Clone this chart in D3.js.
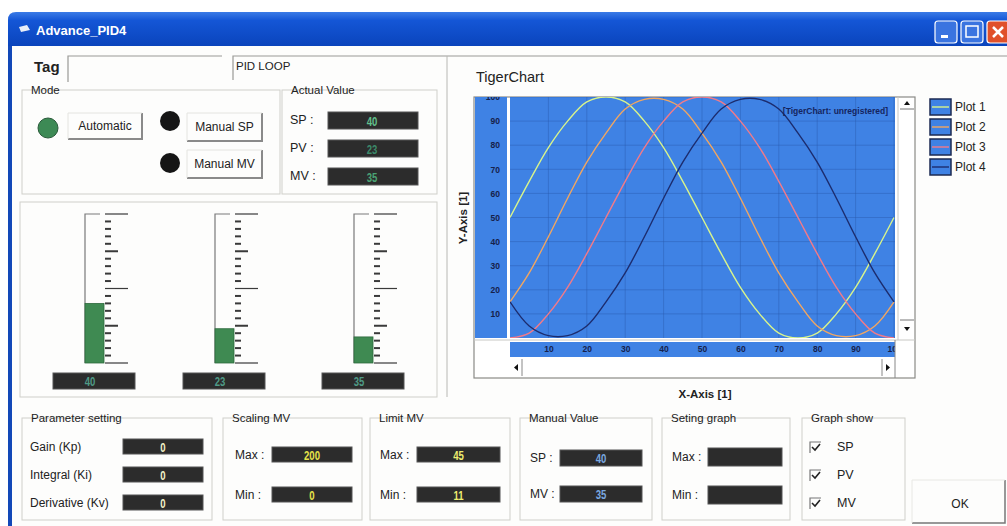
<!DOCTYPE html>
<html>
<head>
<meta charset="utf-8">
<script src="https://cdn.jsdelivr.net/npm/d3@7"></script>
<style>
  body { margin: 0; background: #ffffff; }
  text { font-family: "Liberation Sans", Arial, sans-serif; }
</style>
</head>
<body>
<script>
// chart data
const xValues = [0, 5, 10, 15, 20, 25, 30, 35, 40, 45, 50, 55, 60, 65, 70, 75, 80, 85, 90, 95, 100];
const plot1 = [50, 65, 79, 90, 98, 100, 98, 90, 79, 65, 50, 35, 21, 10, 2, 0, 2, 10, 21, 35, 50];
const plot2 = [15, 27, 42, 58, 73, 85, 95, 99, 99, 95, 85, 73, 58, 42, 27, 15, 5, 1, 1, 5, 15];
const plot3 = [0, 2, 10, 21, 35, 50, 65, 79, 90, 98, 100, 98, 90, 79, 65, 50, 35, 21, 10, 2, 0];
const plot4 = [15, 5, 1, 1, 5, 15, 27, 42, 58, 73, 85, 95, 99, 99, 95, 85, 73, 58, 42, 27, 15];
const plotNames = ["Plot 1", "Plot 2", "Plot 3", "Plot 4"];
const xTicks = [10, 20, 30, 40, 50, 60, 70, 80, 90, 100];
const yTicks = [10, 20, 30, 40, 50, 60, 70, 80, 90, 100];

// panel values
const actualLabels = ["SP", "PV", "MV"];
const actualValues = [40, 23, 35];
const gaugeValues = [40, 23, 35];
const gaugeMax = [100, 100, 200];
const paramLabels = ["Gain (Kp)", "Integral (Ki)", "Derivative (Kv)"];
const paramValues = [0, 0, 0];
const rangeLabels = ["Max", "Min"];
const scalingValues = [200, 0];
const limitValues = [45, 11];
const manualLabels = ["SP", "MV"];
const manualValues = [40, 35];
const showLabels = ["SP", "PV", "MV"];

const plotColors = ["#d8f48c", "#f2a660", "#f27a88", "#1c2c6e"];
const plotBlue = "#3f82e4";

const svg = d3.select("body").append("svg")
    .attr("width", 1007)
    .attr("height", 526);

const defs = svg.append("defs");
let grad = defs.append("linearGradient").attr("id", "title").attr("x1", 0).attr("y1", 0).attr("x2", 0).attr("y2", 1);
grad.append("stop").attr("offset", "0%").attr("stop-color", "#3b7be6");
grad.append("stop").attr("offset", "25%").attr("stop-color", "#1456d6");
grad.append("stop").attr("offset", "100%").attr("stop-color", "#0a44bc");

// ---- window frame ----
svg.append("path")
    .attr("d", "M8,46 L8,20 Q8,12 16,12 L1007,12 L1007,46 Z")
    .attr("fill", "url(#title)");
svg.append("rect").attr("x", 8).attr("y", 46).attr("width", 4).attr("height", 480).attr("fill", "#1248b8");
svg.append("rect").attr("x", 12).attr("y", 46).attr("width", 995).attr("height", 480).attr("fill", "#fdfdfc");
svg.append("path").attr("d", "M19,27 L27,25 L30,30 L21,32 Z").attr("fill", "#e8eef8");
svg.append("text").attr("x", 36).attr("y", 35).text("Advance_PID4")
    .attr("fill", "#fff").attr("font-weight", "bold").attr("font-size", 13);

// title buttons
[[935, "min"], [961, "max"], [987, "close"]].forEach(function (b) {
    svg.append("rect").attr("x", b[0]).attr("y", 21).attr("width", 22).attr("height", 22).attr("rx", 3)
        .attr("fill", b[1] === "close" ? "#e0502a" : "#3a74e0").attr("stroke", "#fff").attr("stroke-width", 1.2);
    if (b[1] === "min") svg.append("rect").attr("x", b[0] + 6).attr("y", 35).attr("width", 7).attr("height", 3).attr("fill", "#fff");
    if (b[1] === "max") svg.append("rect").attr("x", b[0] + 5).attr("y", 26).attr("width", 12).attr("height", 11).attr("fill", "none").attr("stroke", "#fff").attr("stroke-width", 1.5);
    if (b[1] === "close") svg.append("path").attr("d", "M" + (b[0] + 6) + ",27 l10,10 M" + (b[0] + 16) + ",27 l-10,10").attr("stroke", "#fff").attr("stroke-width", 2.5);
});

// ---- helpers ----
function group(x, y, w, h, label) {
    svg.append("rect").attr("x", x).attr("y", y).attr("width", w).attr("height", h)
        .attr("fill", "none").attr("stroke", "#cfcfca").attr("stroke-width", 1);
    if (label) {
        let t = svg.append("text").attr("x", x + 9).attr("y", y + 4).text(label)
            .attr("font-size", 11.5).attr("fill", "#222");
        let bb = t.node().getBBox();
        svg.insert("rect", "text").attr("x", bb.x - 2).attr("y", y - 2).attr("width", bb.width + 4).attr("height", 4).attr("fill", "#fdfdfc");
    }
}
function txt(x, y, s, size, opts) {
    opts = opts || {};
    return svg.append("text").attr("x", x).attr("y", y).text(s)
        .attr("font-size", size).attr("fill", opts.fill || "#222")
        .attr("font-weight", opts.bold ? "bold" : "normal")
        .attr("text-anchor", opts.anchor || "start")
        .attr("dominant-baseline", "central");
}
function display(x, y, w, h, value, color, cx) {
    svg.append("rect").attr("x", x).attr("y", y).attr("width", w).attr("height", h)
        .attr("fill", "#2c2c2c").attr("stroke", "#555").attr("stroke-width", 1);
    if (value !== null)
        txt(cx === undefined ? x + w / 2 : cx, y + h / 2 + 1, value, 12, {fill: color, anchor: "middle", bold: true})
            .attr("transform", "translate(" + (cx === undefined ? x + w / 2 : cx) + "," + (y + h / 2) + ") scale(0.8,1) translate(" + -(cx === undefined ? x + w / 2 : cx) + "," + -(y + h / 2) + ")");
}
function button(x, y, w, h, label) {
    svg.append("rect").attr("x", x).attr("y", y).attr("width", w).attr("height", h).attr("fill", "#fdfdfc");
    svg.append("path").attr("d", "M" + (x + w) + "," + y + " L" + (x + w) + "," + (y + h) + " L" + x + "," + (y + h))
        .attr("fill", "none").attr("stroke", "#8a8a8a").attr("stroke-width", 2);
    svg.append("path").attr("d", "M" + x + "," + (y + h) + " L" + x + "," + y + " L" + (x + w) + "," + y)
        .attr("fill", "none").attr("stroke", "#e4e4e0").attr("stroke-width", 1);
    txt(x + w / 2, y + h / 2, label, 12, {anchor: "middle"});
}

// ---- Tag row ----
txt(34, 66, "Tag", 15, {bold: true});
svg.append("path").attr("d", "M68,82 L68,56 L222,56").attr("fill", "none").attr("stroke", "#9a9a96").attr("stroke-width", 1.2);
svg.append("path").attr("d", "M233,80 L233,56 L437,56 L1007,56").attr("fill", "none").attr("stroke", "#9a9a96").attr("stroke-width", 1.2);
txt(236, 66, "PID LOOP", 11.5);

// ---- Mode ----
group(22, 90, 258, 104, "Mode");
svg.append("circle").attr("cx", 48).attr("cy", 128).attr("r", 10).attr("fill", "#3d8a55").attr("stroke", "#2a5a3a");
svg.append("circle").attr("cx", 170).attr("cy", 121).attr("r", 10).attr("fill", "#151515");
svg.append("circle").attr("cx", 170).attr("cy", 163).attr("r", 10).attr("fill", "#151515");
button(68, 113, 74, 26, "Automatic");
button(187, 113, 75, 28, "Manual SP");
button(187, 150, 75, 28, "Manual MV");

// ---- Actual value ----
group(282, 90, 155, 104, "Actual Value");
const actualColors = ["#62c08c", "#3c8a6a", "#4aa374"];
actualLabels.forEach(function (l, i) {
    let yy = 112 + i * 28;
    txt(290, yy + 8, l + " :", 12.5);
    display(328, yy, 90, 17, actualValues[i], actualColors[i], 372);
});

// ---- gauges ----
group(20, 202, 417, 195, null);
const gaugeX = [85, 215, 354];
const gaugeBoxX = [53, 183, 322];
gaugeValues.forEach(function (v, i) {
    let gs = d3.scaleLinear().domain([0, gaugeMax[i]]).range([363, 214]);
    let gx = gaugeX[i];
    svg.append("path").attr("d", "M" + (gx + 15) + ",214 L" + gx + ",214 L" + gx + ",363")
        .attr("fill", "none").attr("stroke", "#7a7a7a").attr("stroke-width", 1.2);
    svg.append("rect").attr("x", gx).attr("y", gs(v)).attr("width", 19).attr("height", 363 - gs(v))
        .attr("fill", "#3f8a52").attr("stroke", "#2f6a3e").attr("stroke-width", 0.8);
    let ticks = gs.ticks(20);
    ticks.forEach(function (t, k) {
        let len = (k % 10 === 0) ? 23 : (k % 5 === 0 ? 13 : 6);
        svg.append("line").attr("x1", gx + 20).attr("x2", gx + 20 + len)
            .attr("y1", gs(t)).attr("y2", gs(t))
            .attr("stroke", "#3a3a3a").attr("stroke-width", k % 10 === 0 ? 1.2 : 2);
    });
    display(gaugeBoxX[i], 373, 82, 16, v, "#4f9a86", gaugeBoxX[i] + 37);
});

// ---- TigerChart ----
svg.append("path").attr("d", "M447,397 L447,56").attr("stroke", "#b8b8b4").attr("fill", "none");
txt(476, 77, "TigerChart", 14.5);

const x = d3.scaleLinear().domain([0, 100]).range([510, 894]);
const y = d3.scaleLinear().domain([0, 100]).range([338, 97]);

// frame
svg.append("rect").attr("x", 474).attr("y", 97).attr("width", 441).attr("height", 281)
    .attr("fill", "#fff").attr("stroke", "#8a8a86").attr("stroke-width", 1.2);
svg.append("rect").attr("x", 475).attr("y", 97).attr("width", 32).attr("height", 241).attr("fill", plotBlue);
svg.append("rect").attr("x", 510).attr("y", 97).attr("width", 385).attr("height", 241).attr("fill", plotBlue);
svg.append("rect").attr("x", 510).attr("y", 342).attr("width", 385).attr("height", 15).attr("fill", plotBlue);

defs.append("clipPath").attr("id", "plotClip").append("rect").attr("x", 510).attr("y", 97).attr("width", 385).attr("height", 241);
defs.append("clipPath").attr("id", "yClip").append("rect").attr("x", 475).attr("y", 97).attr("width", 32).attr("height", 241);
defs.append("clipPath").attr("id", "xClip").append("rect").attr("x", 510).attr("y", 342).attr("width", 385).attr("height", 15);

// grid
let grid = svg.append("g").attr("clip-path", "url(#plotClip)");
grid.selectAll(".vg").data(xTicks).enter().append("line")
    .attr("x1", d => x(d)).attr("x2", d => x(d)).attr("y1", 97).attr("y2", 338)
    .attr("stroke", "#2a5cb0").attr("stroke-opacity", 0.45);
grid.selectAll(".hg").data(yTicks).enter().append("line")
    .attr("x1", 510).attr("x2", 895).attr("y1", d => y(d)).attr("y2", d => y(d))
    .attr("stroke", "#2a5cb0").attr("stroke-opacity", 0.45);

// lines
const line = d3.line()
    .x((d, i) => x(xValues[i]))
    .y(d => y(d))
    .curve(d3.curveCatmullRom.alpha(0.5));
let series = [plot1, plot2, plot3, plot4];
grid.selectAll(".series").data(series).enter().append("path")
    .attr("d", line)
    .attr("fill", "none")
    .attr("stroke", (d, i) => plotColors[i])
    .attr("stroke-width", 1.4);

txt(888, 111, "[TigerChart: unregistered]", 8.5, {fill: "#15245e", anchor: "end", bold: true})
    .attr("font-family", "Liberation Sans Narrow, Liberation Sans");

// axes
let yAxis = svg.append("g").attr("clip-path", "url(#yClip)")
    .append("g").attr("transform", "translate(500,0)")
    .call(d3.axisLeft(y).tickValues(yTicks).tickSize(0).tickPadding(0));
yAxis.select(".domain").remove();
yAxis.selectAll("text").attr("font-size", 8.5).attr("font-weight", "bold").attr("fill", "#16214a")
    .attr("font-family", "Liberation Sans Narrow, Liberation Sans");

let xAxis = svg.append("g").attr("clip-path", "url(#xClip)")
    .append("g").attr("transform", "translate(0,344)")
    .call(d3.axisBottom(x).tickValues(xTicks).tickSize(0).tickPadding(2));
xAxis.select(".domain").remove();
xAxis.selectAll("text").attr("font-size", 8.5).attr("font-weight", "bold").attr("fill", "#16214a")
    .attr("font-family", "Liberation Sans Narrow, Liberation Sans");

txt(705, 394, "X-Axis [1]", 11.5, {bold: true, anchor: "middle"});
txt(463, 218, "Y-Axis [1]", 11.5, {bold: true, anchor: "middle"})
    .attr("transform", "rotate(-90,463,218)");

// scrollbars
svg.append("line").attr("x1", 898).attr("x2", 898).attr("y1", 97).attr("y2", 340).attr("stroke", "#c8c8c4");
svg.append("line").attr("x1", 900).attr("x2", 914).attr("y1", 109).attr("y2", 109).attr("stroke", "#777");
svg.append("line").attr("x1", 900).attr("x2", 914).attr("y1", 320).attr("y2", 320).attr("stroke", "#777");
svg.append("path").attr("d", "M904,105 L910,105 L907,101 Z").attr("fill", "#111");
svg.append("path").attr("d", "M904,327 L910,327 L907,331 Z").attr("fill", "#111");
svg.append("line").attr("x1", 474).attr("x2", 915).attr("y1", 340).attr("y2", 340).attr("stroke", "#c8c8c4");
svg.append("line").attr("x1", 522).attr("x2", 522).attr("y1", 359).attr("y2", 376).attr("stroke", "#888");
svg.append("line").attr("x1", 882).attr("x2", 882).attr("y1", 359).attr("y2", 376).attr("stroke", "#888");
svg.append("line").attr("x1", 895).attr("x2", 895).attr("y1", 340).attr("y2", 378).attr("stroke", "#888");
svg.append("path").attr("d", "M518,364 L518,371 L514,367.5 Z").attr("fill", "#111");
svg.append("path").attr("d", "M886,364 L886,371 L890,367.5 Z").attr("fill", "#111");

// legend
plotNames.forEach(function (n, i) {
    let ly = 107 + i * 20;
    svg.append("rect").attr("x", 930).attr("y", ly - 8).attr("width", 21).attr("height", 16)
        .attr("fill", plotBlue).attr("stroke", "#1c2a52").attr("stroke-width", 1.5);
    svg.append("line").attr("x1", 932).attr("x2", 949).attr("y1", ly).attr("y2", ly)
        .attr("stroke", plotColors[i]).attr("stroke-width", 1.4);
    txt(955, ly, n, 12);
});

// ---- bottom groups ----
group(22, 418, 190, 102, "Parameter setting");
paramLabels.forEach(function (l, i) {
    let yy = [439, 467, 495][i];
    txt(30, yy + 8, l, 12);
    display(123, yy, 80, 15, paramValues[i], "#f2f2c8");
});

group(223, 418, 139, 102, "Scaling MV");
rangeLabels.forEach(function (l, i) {
    let yy = [447, 487][i];
    txt(235, yy + 8, l + (i === 0 ? " :" : "   :"), 12);
    display(272, yy, 80, 15, scalingValues[i], "#e6e44a");
});

group(370, 418, 140, 102, "Limit MV");
rangeLabels.forEach(function (l, i) {
    let yy = [447, 487][i];
    txt(380, yy + 8, l + (i === 0 ? " :" : "  :"), 12);
    display(417, yy, 83, 15, limitValues[i], "#eeee70");
});

group(520, 418, 132, 102, "Manual Value");
manualLabels.forEach(function (l, i) {
    let yy = [450, 486][i];
    txt(530, yy + 8, l + " :", 12);
    display(560, yy, 82, 16, manualValues[i], "#7aa8e0");
});

group(662, 418, 128, 102, "Seting graph");
rangeLabels.forEach(function (l, i) {
    let yy = [448, 486][i];
    txt(672, yy + 9, l + (i === 0 ? " :" : "  :"), 12);
    display(708, yy, 74, 18, null);
});

group(802, 418, 103, 102, "Graph show");
showLabels.forEach(function (l, i) {
    let yy = [447, 475, 503][i];
    svg.append("path").attr("d", "M810," + (yy + 6) + " L810," + (yy - 5) + " L821," + (yy - 5))
        .attr("fill", "none").attr("stroke", "#777").attr("stroke-width", 1.2);
    svg.append("path").attr("d", "M812," + yy + " L815," + (yy + 3) + " L820," + (yy - 3))
        .attr("fill", "none").attr("stroke", "#222").attr("stroke-width", 1.6);
    txt(837, yy, l, 12.5);
});

// OK button
svg.append("path").attr("d", "M1005,480 L1005,523 L912,523").attr("fill", "none").attr("stroke", "#777").attr("stroke-width", 1.5);
svg.append("path").attr("d", "M912,523 L912,480 L1005,480").attr("fill", "none").attr("stroke", "#e8e8e4").attr("stroke-width", 1);
txt(960, 504, "OK", 12, {anchor: "middle"});
</script>
</body>
</html>
